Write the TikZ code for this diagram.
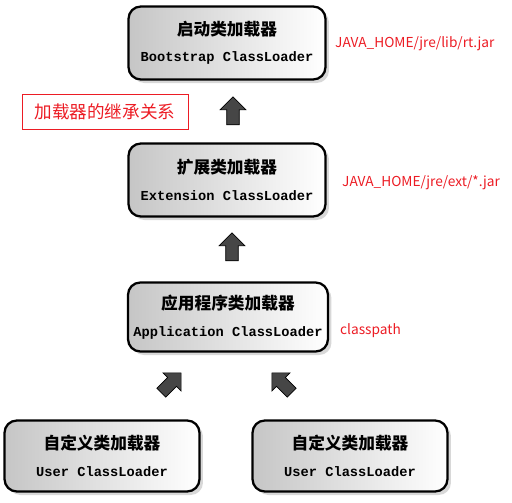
\documentclass[tikz,border=0pt]{standalone}
\usepackage{fontspec}
\setmonofont{Liberation Mono}
\newfontfamily\cjk{Noto Sans CJK SC}
\usetikzlibrary{shapes.arrows,shadows,calc}
\definecolor{labelred}{RGB}{236,28,36}
\begin{document}
\begin{tikzpicture}[x=0.02cm,y=-0.02cm,
  loader/.style={draw=black, line width=1.3pt, rounded corners=7pt,
    left color=gray!45, right color=white, align=center,
    drop shadow={shadow xshift=2pt, shadow yshift=-2pt, fill=gray!60},
    minimum width=3.94cm, minimum height=1.46cm, inner sep=0pt},
  blockup/.style={single arrow, fill=gray!55!black, draw=black, thin,
    minimum height=0.56cm, inner sep=0.12cm, single arrow head extend=0.13cm},
  redlabel/.style={text=labelred, font=\cjk\fontsize{7.8}{9}\selectfont, anchor=west}]
 \useasboundingbox (0,0) rectangle (512,503);
 \newcommand\ldtext[2]{{\cjk\bfseries\fontsize{9.5}{12}\selectfont #1}\\[3pt]
   {\ttfamily\bfseries\fontsize{7.8}{9}\selectfont #2}}
 % loaders
 \node[loader] (boot) at (227,43) {\ldtext{启动类加载器}{Bootstrap ClassLoader}};
 \node[loader] (ext) at (227,180) {\ldtext{扩展类加载器}{Extension ClassLoader}};
 \node[loader, minimum width=4cm, minimum height=1.38cm] (app) at (228,317)
   {\ldtext{应用程序类加载器}{Application ClassLoader}};
 \node[loader, minimum width=3.9cm, minimum height=1.42cm] (user1) at (102,456)
   {\ldtext{自定义类加载器}{User ClassLoader}};
 \node[loader, minimum width=3.9cm, minimum height=1.42cm] (user2) at (350,456)
   {\ldtext{自定义类加载器}{User ClassLoader}};
 % arrows between them
 \node[blockup, rotate=90] (up1) at (233,114) {};
 \node[blockup, rotate=90] (up2) at (232,250) {};
 \node[blockup, rotate=45] (up3) at (169,385) {};
 \node[blockup, rotate=135] (up4) at (284,385) {};
 % notes
 \node[draw=labelred, thin, text=labelred, font=\cjk\fontsize{10}{12}\selectfont,
   minimum width=3.32cm, minimum height=0.7cm] (title) at (105,112) {加载器的继承关系};
 \node[redlabel] (rt) at (329,44) {JAVA\_HOME/jre/lib/rt.jar};
 \node[redlabel] (extjar) at (336,183) {JAVA\_HOME/jre/ext/*.jar};
 \node[redlabel] (cp) at (334,331) {classpath};
\end{tikzpicture}
\end{document}
